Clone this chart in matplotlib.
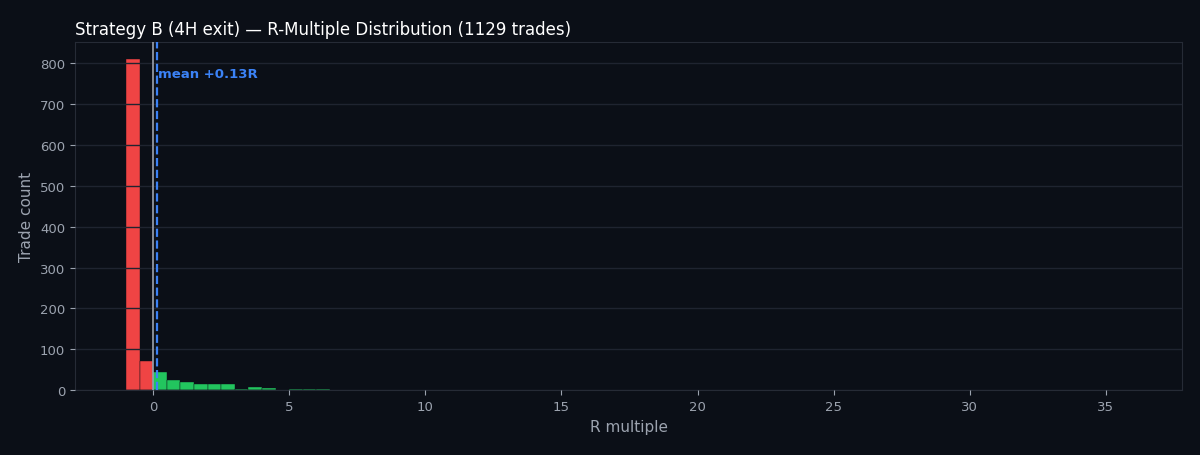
import matplotlib
matplotlib.use("Agg")
import matplotlib.pyplot as plt
import numpy as np

bin_left = [-1.0, -0.5, 0.0, 0.5, 1.0, 1.5, 2.0, 2.5, 3.0, 3.5, 4.0, 5.0, 5.5, 6.0, 6.5, 7.5, 8.5, 9.5, 10.0, 12.5, 14.5, 16.0, 35.5]
counts   = [810, 72, 44, 25, 21, 16, 16, 16, 3, 8, 5, 3, 3, 3, 1, 1, 1, 1, 1, 1, 1, 1, 1]
mean_r = 0.13

bg = "#0b0f17"
fig, ax = plt.subplots(figsize=(12, 4.56), dpi=100)
fig.patch.set_facecolor(bg)
ax.set_facecolor(bg)
fig.subplots_adjust(left=0.0625, right=0.985, top=0.905, bottom=0.142)

colors = ["#ef4444" if b < 0 else "#22c55e" for b in bin_left]
ax.bar(bin_left, counts, width=0.5, align="edge", color=colors, edgecolor=bg, linewidth=0.3, zorder=2)
ax.axvline(0, color="#9ca3af", lw=1.2, zorder=3)
ax.axvline(mean_r, color="#3b82f6", lw=1.6, ls="--", zorder=3)
ax.text(mean_r + 0.05, 775, "mean +0.13R", color="#3b82f6", fontsize=9.5, fontweight="bold", va="center")

ax.set_xlim(-2.87, 37.8)
ax.set_ylim(0, 851)
ax.grid(axis="y", color="#1f2430", lw=1, zorder=2.5)
ax.set_axisbelow(False)
for s in ax.spines.values():
    s.set_color("#262b36")
ax.tick_params(colors="#9ca3af", labelsize=9.5)
ax.set_xlabel("R multiple", color="#9ca3af", fontsize=11)
ax.set_ylabel("Trade count", color="#9ca3af", fontsize=11)
ax.set_title("Strategy B (4H exit) — R-Multiple Distribution (1129 trades)", color="white", fontsize=12, loc="left")
fig.savefig("out.png", facecolor=bg)
